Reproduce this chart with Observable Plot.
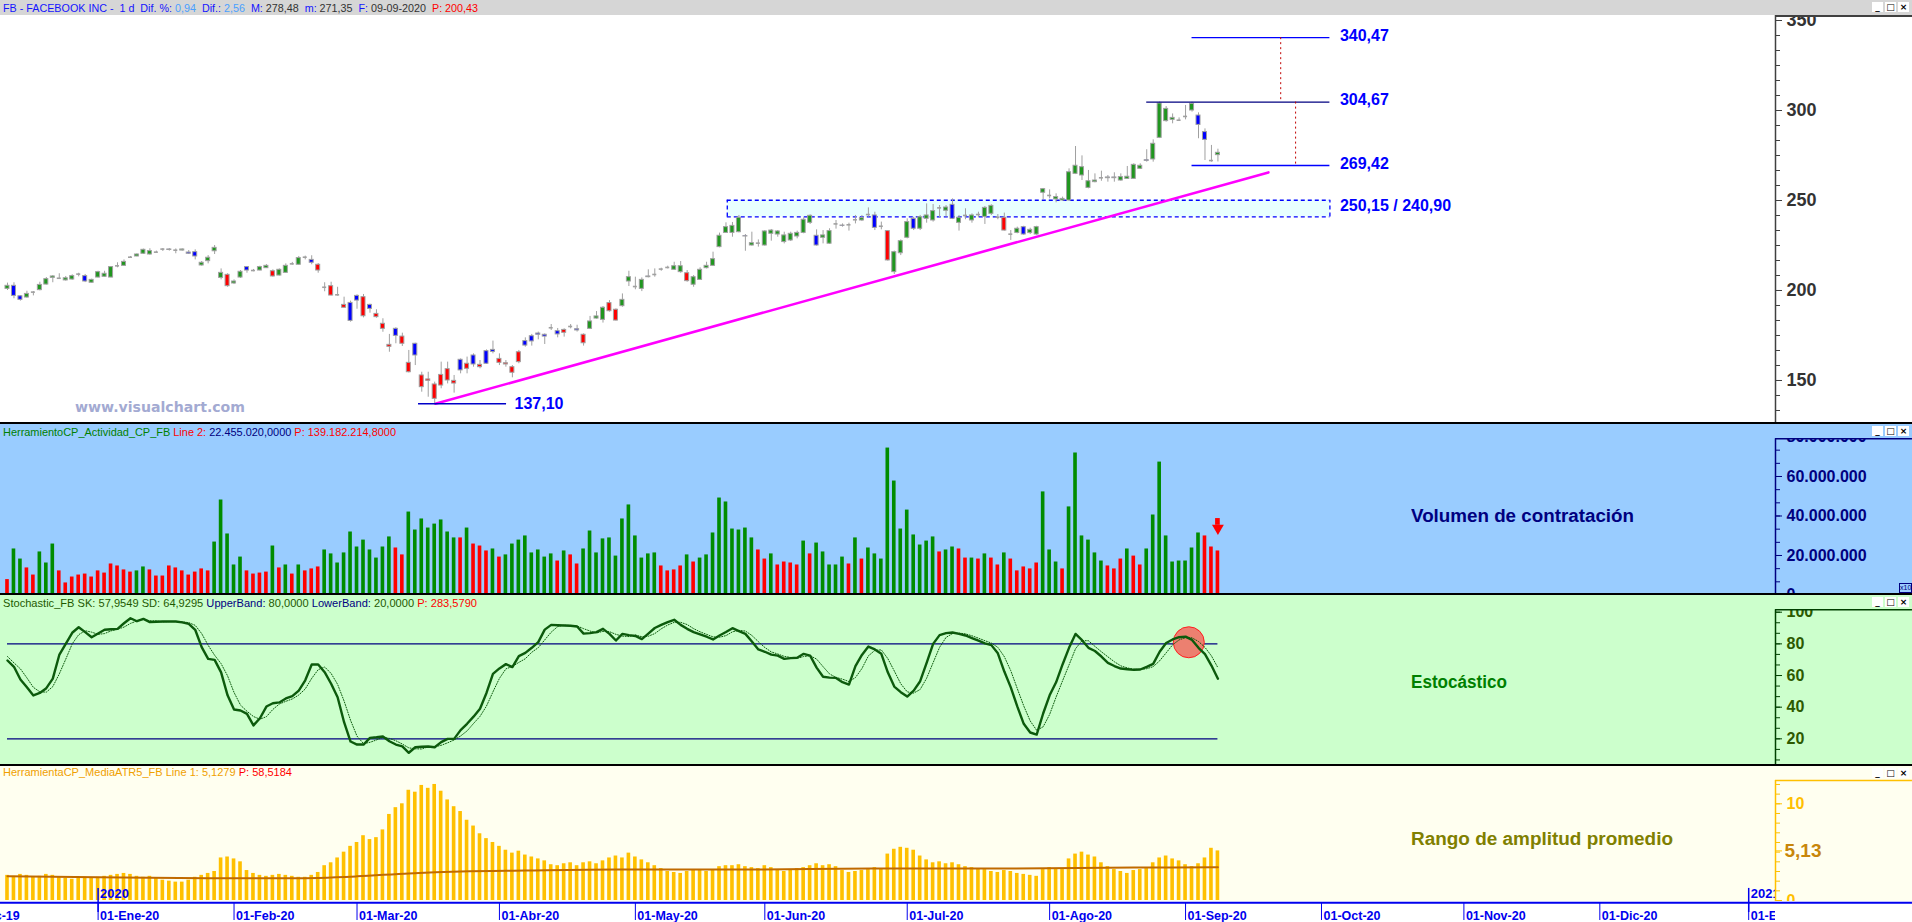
<!DOCTYPE html>
<html>
<head>
<meta charset="utf-8">
<script src="https://cdn.jsdelivr.net/npm/d3@7"></script>
<script src="https://cdn.jsdelivr.net/npm/@observablehq/plot@0.6"></script>
<style>
html,body{margin:0;padding:0;background:#fff;}
#root{position:relative;width:1912px;height:922px;overflow:hidden;font-family:"Liberation Sans",Arial,sans-serif;}
#root svg{position:absolute;left:0;}
.ov{position:absolute;white-space:pre;transform-origin:0 50%;}
.hdr{font-size:11px;line-height:12px;}
.big{font:bold 18px "Liberation Sans",Arial,sans-serif;line-height:22px;}
.btns{position:absolute;left:1872px;display:flex;gap:2px;}
.btns span{display:block;width:11px;height:10px;background:#fff;font:bold 9px/10px "DejaVu Sans",sans-serif;text-align:center;color:#000;}
</style>
</head>
<body>
<div id="root"></div>
<script>
// ---------------- DATA ----------------
const FIRST_DAY = -14; // trading-day index (0 = 02-Jan-2020)
const OPEN = [200.9,202.6,196.8,196.1,199.1,200.2,203.3,207.0,206.8,205.6,206.1,209.1,208.0,204.3,
207.2,207.6,207.2,213.7,213.7,218.5,218.9,220.4,220.0,221.3,223.0,222.8,222.4,222.2,221.1,221.3,213.9,216.3,221.8,
207.0,208.7,203.9,207.2,213.0,211.1,211.1,212.4,210.7,208.3,209.8,214.8,214.3,218.5,217.0,214.3,201.8,202.4,197.6,192.0,193.1,197.0,
196.3,192.0,187.0,181.5,169.8,178.7,174.4,159.8,170.4,152.8,150.6,147.8,153.1,156.3,149.8,161.5,159.3,163.9,158.7,166.3,
167.0,162.0,159.6,157.4,165.7,171.9,174.6,176.1,175.4,179.3,177.4,178.1,180.0,178.5,175.4,178.7,184.4,183.7,193.0,189.3,
191.3,205.0,202.2,200.9,207.8,208.9,211.9,212.8,211.5,210.2,209.6,203.2,205.9,212.4,213.7,224.1,232.0,232.0,232.4,230.2,
225.0,226.3,225.0,231.5,231.1,226.9,227.8,230.0,232.0,237.6,230.4,229.3,226.0,237.0,236.1,236.5,239.3,238.9,242.2,241.7,
235.7,233.0,210.2,220.7,229.3,239.8,234.3,239.8,238.9,245.9,244.3,247.6,237.6,241.7,238.9,242.2,240.9,242.6,240.7,240.4,
231.3,232.0,235.2,231.9,231.1,254.3,252.8,250.6,250.0,250.0,264.8,263.9,257.0,260.2,262.6,262.8,262.8,261.1,262.0,262.0,
267.6,272.4,272.8,284.8,294.1,294.8,294.6,296.7,300.0,297.2,288.0,272.2,275.2];
const HIGH = [204.1,204.3,197.2,199.6,199.4,204.6,207.2,208.3,209.3,207.8,208.7,209.6,208.9,206.3,
210.7,210.7,213.3,215.4,217.0,218.9,220.4,223.0,223.2,221.9,223.3,223.3,223.1,223.1,222.2,222.6,216.1,219.4,225.0,
212.0,209.3,205.9,211.1,213.3,211.7,213.5,214.4,211.5,212.0,214.8,215.6,218.9,219.1,219.3,215.0,204.3,204.6,201.8,196.3,194.1,197.6,
197.8,192.4,189.3,184.3,175.6,179.3,176.3,166.7,170.7,154.6,154.6,149.1,160.2,160.2,152.8,162.0,163.0,164.8,161.1,167.0,
171.9,164.8,161.1,158.3,166.7,173.7,175.6,176.9,175.9,181.1,178.9,178.7,181.1,180.7,175.9,185.6,188.3,191.1,194.4,189.8,
198.1,210.7,207.4,207.0,211.5,212.0,212.4,213.5,215.7,216.1,211.1,208.3,212.6,215.7,221.3,231.9,237.6,237.8,241.7,231.1,
232.4,228.1,233.3,233.9,233.3,232.4,232.4,233.0,240.4,242.0,233.7,233.3,234.3,238.9,237.0,237.4,241.7,241.7,245.9,243.5,
238.0,233.3,221.9,228.1,239.8,240.7,241.7,248.1,247.8,247.2,247.2,250.9,241.7,245.4,242.6,243.5,246.7,247.6,242.2,243.0,
233.3,235.2,235.7,234.6,235.7,256.7,255.9,253.7,251.9,267.6,280.0,274.8,266.7,264.8,266.3,263.9,265.4,264.8,268.9,270.4,
270.4,278.2,283.7,304.7,302.2,298.1,295.9,302.8,304.6,298.7,289.8,280.6,278.5];
const LOW = [200.0,195.4,194.1,195.7,197.0,199.8,203.0,204.3,206.1,205.2,205.7,207.6,204.4,204.1,
207.0,207.4,207.0,212.6,213.5,217.8,218.7,220.0,219.6,220.7,221.7,221.9,220.4,221.9,220.0,217.0,213.5,214.8,220.0,
205.9,201.8,203.3,206.7,209.6,210.4,210.9,212.2,207.4,208.0,209.6,214.1,214.1,217.0,214.3,209.6,199.3,197.0,196.9,190.2,182.4,189.6,
184.8,187.4,184.6,176.8,165.7,170.4,168.9,154.2,158.3,143.5,140.7,137.1,145.4,148.1,143.0,153.7,153.7,157.4,156.5,158.9,
164.8,158.3,157.4,151.5,159.3,168.5,169.1,172.6,170.0,177.8,173.7,174.1,178.7,176.9,169.1,178.3,184.1,181.9,188.0,183.0,
190.7,202.2,200.4,199.4,207.0,207.4,210.7,212.0,211.1,209.6,204.6,201.8,205.6,212.0,213.3,223.7,231.9,229.6,232.0,221.8,
224.6,224.1,224.6,227.4,229.6,225.9,227.2,228.7,231.5,236.7,224.6,225.9,225.6,234.1,235.2,233.0,237.0,238.3,240.7,233.3,
233.7,216.3,208.9,219.4,228.7,233.3,233.3,237.4,238.0,240.4,240.7,239.4,233.0,239.3,237.4,240.4,236.7,241.7,239.3,233.0,
227.8,231.5,230.6,231.1,230.6,250.4,250.9,248.7,249.6,249.6,264.4,261.1,256.5,259.8,260.7,260.2,260.2,260.7,261.7,261.7,
267.2,271.3,271.3,284.4,293.5,292.6,294.1,294.8,299.1,284.3,272.2,271.3,271.4];
const CLOSE = [202.6,197.0,194.8,198.1,199.1,203.1,206.3,207.8,206.8,206.8,208.0,209.1,205.0,205.9,
210.2,209.3,213.0,213.7,215.9,218.5,220.0,222.6,221.9,221.3,223.0,222.5,222.4,222.8,220.4,218.9,215.4,218.2,223.7,
209.8,202.4,205.0,210.4,211.1,211.1,213.0,213.7,207.8,211.5,213.7,214.8,218.0,218.5,215.4,211.1,201.8,197.2,197.6,190.4,183.1,194.4,
185.7,189.8,185.2,178.7,168.7,174.8,170.4,154.6,163.9,146.3,149.8,139.8,147.2,150.0,148.3,155.6,156.5,158.9,157.4,159.3,
165.9,159.8,158.9,154.3,160.2,169.4,171.7,175.4,174.4,179.3,175.6,176.5,180.0,177.8,170.7,182.8,185.6,190.4,188.5,183.3,
194.8,207.4,202.2,205.9,207.4,208.9,211.9,212.8,213.5,213.5,205.2,207.4,211.5,213.7,217.4,230.4,235.2,235.9,240.4,230.0,
226.3,226.3,232.8,233.3,232.8,230.6,231.5,232.0,239.3,241.5,225.0,230.6,233.0,237.0,235.9,236.5,239.3,240.2,242.2,234.8,
235.7,216.7,221.3,227.4,238.0,234.3,240.7,241.7,244.1,245.9,246.1,239.8,240.4,241.7,241.7,242.2,245.9,247.0,240.7,233.3,
231.3,234.3,231.1,233.7,235.2,256.3,252.8,251.9,250.9,265.7,269.3,268.5,260.7,261.1,262.6,262.4,262.4,263.0,263.2,269.8,
269.3,272.0,281.5,303.9,300.9,295.9,294.6,296.7,303.7,292.0,283.7,272.2,276.5];
// g = green body, r = red body, b = blue body, d = doji
const CANDLE_KIND = ("gbbgdgggdggdbg" + "gggdgdgggddbdgbbggg" + "grggbdggrggdgdbrdrdrbb" + "rbrrrbrrbrrrrrrbrbrb" +
  "brrrrbbbbdbrdbrgggrr" + "ggdgbdddggrggggggggb" + "gdggggggggbggdbddgdb" + "drgggbgggdgbgdgdggdr" +
  "dgbgggdgggggggdbbggg" + "gbggggddgbbdg").split("");

// volume (millions)
const VOLUME = [7.8,23.3,18.2,13.7,10.1,21.8,16.2,25.8,12.2,6.1,
9.1,10.1,10.6,9.1,12.2,11.1,15.7,14.7,12.7,11.6,
12.2,14.2,12.7,9.6,9.6,14.7,13.7,12.2,10.1,11.6,
13.2,12.2,26.8,48.1,30.9,15.2,19.2,12.2,10.6,11.1,
11.6,24.8,13.7,15.2,10.6,15.2,12.2,13.2,14.2,22.8,
20.8,16.2,21.3,31.9,24.3,27.8,22.8,18.7,24.3,29.4,
23.8,20.3,42.0,32.9,38.5,33.9,35.9,38.0,31.9,28.9,
28.9,33.9,25.8,24.8,22.3,23.3,19.2,20.3,25.8,27.8,
29.9,21.3,22.8,19.2,20.8,17.2,22.3,20.3,15.7,23.3,
32.4,21.3,28.4,28.9,19.7,
38.5,45.6,29.9,18.7,20.8,21.3,14.7,12.2,12.7,14.7,
20.3,16.7,18.7,20.3,31.4,49.1,47.1,33.4,32.9,33.9,
28.9,22.8,18.2,20.8,15.2,16.7,16.2,15.2,27.3,20.8,
26.3,21.8,15.2,15.2,19.2,15.7,28.9,18.2,23.8,20.8,
18.2,74.4,57.7,33.4,43.0,30.4,25.3,27.3,29.4,21.8,
22.8,24.3,23.3,18.7,18.7,18.2,20.8,18.7,15.2,21.3,
18.2,12.2,14.2,13.2,16.2,52.2,22.8,16.7,13.2,44.6,
71.9,29.9,27.8,21.3,17.2,14.7,13.2,18.2,23.3,19.7,
15.2,23.3,40.5,67.3,29.9,16.7,17.2,17.2,23.8,31.4,
29.9,24.3,22.3];
const VOLUME_KIND = ("rggrrgggrr" + "rrrrrrrrrr" + "ggrrrrrrrr" + "rrgggggrrr" + "rgrgrgrrrg" + "gggggggggg" +
  "rrgggggggg" + "rgrrrgrggg" + "gggggrgrrg" + "ggggg" + "ggggggrrrr" + "grgggggggg" + "grrgrrrrgr" +
  "gggggrgrgg" + "gggggggggr" + "ggrrgrgrrg" + "rrrrrgggrg" + "gggggrrrgr" + "rggggggggg" + "rrr").split("");
const VOLUME_ALERT = {day: 173, value: 38.7};

// stochastic %K (solid) and %D (dotted)
const SK = [69.5,65.5,57.5,52.6,47.4,49.0,52.0,58.0,73.0,80.0,87.0,90.5,87.4,84.2,
86.5,88.9,89.2,89.5,93.0,96.2,94.3,95.8,93.7,94.0,94.1,94.1,94.1,93.6,92.6,88.9,77.9,70.5,69.9,
62.0,47.5,38.5,37.9,35.8,28.5,33.0,40.4,42.5,43.0,45.5,47.0,50.5,57.0,67.0,67.0,62.1,54.8,46.3,30.5,18.3,16.4,
16.4,20.6,21.0,21.5,18.5,16.4,15.2,11.2,14.7,15.0,15.2,14.7,17.9,20.0,20.0,25.5,29.5,34.0,39.0,49.0,
61.0,64.5,67.2,65.3,72.3,74.3,77.5,81.1,89.0,92.0,91.8,91.6,91.4,91.0,86.5,86.8,87.4,89.5,86.3,82.1,
86.3,85.5,85.0,83.0,86.5,90.0,92.0,93.7,95.2,92.0,89.5,87.4,86.0,84.5,82.8,85.3,87.5,89.9,88.0,86.3,
81.5,76.5,75.0,73.2,72.6,70.5,71.0,71.2,73.7,72.6,65.0,59.2,58.7,58.5,55.8,54.3,66.0,73.0,78.3,76.5,
73.7,62.0,53.0,49.5,46.7,50.5,56.4,68.0,80.0,85.5,86.8,87.2,86.3,85.3,83.6,82.0,80.3,79.2,74.0,62.5,
52.5,40.5,29.5,24.0,22.7,36.0,47.5,55.7,67.0,77.5,86.3,82.3,77.5,75.5,72.0,68.0,66.0,64.4,64.0,63.6,
63.8,65.5,67.4,75.0,80.5,82.8,84.2,84.6,82.5,77.5,73.5,66.3,58.0];
const SD = [72,68,64.2,58.5,52.5,49.7,49.5,53,61,70.3,80,85.8,88.3,87.4,
86,86.5,88.2,89.2,90.6,92.9,94.5,95.4,94.6,94.5,93.9,94.1,94.1,93.9,93.4,91.7,86.5,79.1,72.8,
67.5,59.8,49.3,41.3,37.4,34.1,32.4,34,38.6,42,43.7,45.2,47.7,51.5,58.2,63.7,65.4,61.3,54.4,43.9,31.7,21.7,
17,17.8,19.3,21,20.3,18.8,16.7,14.3,13.7,13.6,15,15,15.9,17.5,19.3,21.8,25,29.7,34.2,40.7,
49.7,58.2,64.2,65.7,68.3,70.6,74.7,77.6,82.5,87.4,90.9,91.8,91.6,91.3,89.6,88.1,86.9,87.9,87.7,86,
84.9,84.6,85.6,84.5,84.8,86.5,89.5,91.9,93.6,93.6,92.2,89.6,87.6,86,84.4,84.2,85.2,87.6,88.5,88.1,
85.3,81.4,77.7,74.9,73.6,72.1,71.4,70.9,72,72.5,70.4,65.6,61,58.8,57.7,56.2,58.7,64.4,72.4,75.9,
76.2,70.7,62.9,54.8,49.7,48.9,51.2,58.3,68.1,77.8,84.1,86.5,86.8,86.3,85.1,83.6,82,80.5,77.8,71.9,
63,51.8,40.8,31.3,25.4,27.6,35.4,46.4,56.7,66.7,76.9,82,82,78.4,75,71.8,68.7,66.1,64.8,64,
63.8,64.3,65.6,69.3,74.3,79.4,82.5,83.9,83.8,81.5,77.8,72.4,64.9];
const STOCH_BANDS = [80, 20];
const STOCH_HIGHLIGHT = {day: 168.5, value: 81};

// average true range (5) and its average line
const ATR = [2.6,2.5,2.7,2.6,2.4,2.5,2.7,2.6,2.4,2.3,2.2,2.3,2.4,2.3,
2.4,2.5,2.6,2.7,2.8,2.7,2.5,2.4,2.5,2.3,2.1,2.0,1.9,1.9,2.1,2.4,2.6,2.8,3.0,
4.4,4.5,4.3,4.0,
3.1,2.8,2.6,2.5,2.6,2.7,2.6,2.5,2.4,2.4,2.6,2.9,3.6,3.9,4.4,
5.0,5.6,6.0,6.7,6.3,6.5,7.3,
8.9,9.6,10.0,11.4,
11.2,11.9,11.6,12.0,11.3,
10.4,9.7,9.2,8.3,7.7,6.9,
6.4,6.0,5.6,5.2,4.9,
5.1,4.7,4.5,4.3,4.1,
3.7,3.6,3.8,3.9,3.6,3.9,4.0,3.8,4.1,4.4,4.6,4.4,4.9,
4.5,4.2,3.9,3.6,3.3,3.0,2.9,2.8,3.0,3.2,3.1,3.0,3.2,3.5,3.6,
3.6,3.7,3.5,3.4,3.3,3.6,3.4,3.1,3.0,3.2,3.3,3.4,3.6,3.8,3.6,3.7,3.5,3.1,2.9,3.0,
3.1,3.2,3.4,3.3,
4.8,5.3,5.5,5.4,5.2,
4.6,4.2,3.9,4.0,3.8,3.9,3.7,3.5,3.4,3.3,
3.2,3.0,2.9,3.1,3.0,2.8,2.7,2.6,2.5,
3.2,3.4,3.3,3.2,
4.3,4.8,5.0,4.7,4.5,
3.9,3.5,3.2,3.0,2.8,3.1,3.2,3.3,
3.9,4.4,4.6,4.3,4.1,
3.7,3.5,3.8,4.4,
5.4,5.13];
const ATR_AVG_DAYS = [-14, 0, 18, 30, 40, 48, 56, 66, 80, 100, 120, 140, 160, 173];
const ATR_AVG = [2.5, 2.4, 2.3, 2.3, 2.5, 2.8, 3.0, 3.1, 3.2, 3.2, 3.3, 3.3, 3.4, 3.45];
const ATR_LAST = 5.13;

// price annotations
const LEVELS = [
  {value: 340.47, label: "340,47", from: 169},
  {value: 304.67, label: "304,67", from: 162},
  {value: 269.42, label: "269,42", from: 169}
];
const LEVEL_END = 190.3;
const ZONE = {low: 240.90, high: 250.15, label: "250,15 / 240,90", from: 97.2};
const LOW_MARK = {value: 137.10, label: "137,10", from: 49.5, to: 63.1};
const TREND = [{day: 52.1, price: 137.1}, {day: 180.8, price: 265.6}];
const TARGETS = [{day: 182.7, from: 340.47, to: 304.67}, {day: 185.0, from: 304.67, to: 269.42}];

// axes
const MONTH_DAYS = [-21, 0, 21, 40, 62, 83, 103, 125, 147, 168, 189, 211, 232, 255];
const MONTH_LABELS = ["01-Dic-19","01-Ene-20","01-Feb-20","01-Mar-20","01-Abr-20","01-May-20","01-Jun-20",
  "01-Jul-20","01-Ago-20","01-Sep-20","01-Oct-20","01-Nov-20","01-Dic-20","01-Ene-21"];
const YEAR_DAYS = [0, 255];
const YEAR_LABELS = ["2020", "2021"];
const PRICE_TICKS = [150, 200, 250, 300, 350];
const VOLUME_TICKS = [0, 20, 40, 60, 80];
const STOCH_TICKS = [0, 20, 40, 60, 80, 100];
const ATR_TICKS = [0, 10];

// texts
const TITLE = [["FB - FACEBOOK INC -  1 d  Dif. %: ", "#1414ff"], ["0,94", "#4aa0ff"], ["  Dif.: ", "#1414ff"], ["2,56", "#4aa0ff"],
  ["  M: ", "#1414ff"], ["278,48", "#333"], ["  m: ", "#1414ff"], ["271,35", "#333"], ["  F: ", "#1414ff"], ["09-09-2020", "#333"], ["  P: 200,43", "#ff0000"]];
const VOL_HEADER = [["HerramientoCP_Actividad_CP_FB ", "#008000"], ["Line 2: ", "#ff0000"], ["22.455.020,0000 ", "#000080"], ["P: 139.182.214,8000", "#ff0000"]];
const STOCH_HEADER = [["Stochastic_FB SK: 57,9549 SD: 64,9295 ", "#1e5a00"], ["UpperBand: ", "#000080"], ["80,0000 ", "#1e5a00"],
  ["LowerBand: ", "#000080"], ["20,0000 ", "#1e5a00"], ["P: 283,5790", "#ff0000"]];
const ATR_HEADER = [["HerramientaCP_MediaATR5_FB Line 1: 5,1279 ", "#f0a000"], ["P: 58,5184", "#ff0000"]];
const PANEL_NAMES = ["Volumen de contratación", "Estocástico", "Rango de amplitud promedio"];
const WATERMARK = "www.visualchart.com";

// ---------------- BUILD ----------------
const root = document.getElementById("root");
const W = 1912, X_MIN = -15.08, X_MAX = 259.14, X_FAR = 280.3;
const BODY = 0.31, BAR = 0.28;
const day0 = (k) => FIRST_DAY + k;

const candles = OPEN.map((open, k) => ({day: day0(k), open, high: HIGH[k], low: LOW[k], close: CLOSE[k], kind: CANDLE_KIND[k]}));
const volume = VOLUME.map((v, k) => ({day: day0(k), v, kind: VOLUME_KIND[k]}));
const sk = SK.map((v, k) => ({day: day0(k), v}));
const sd = SD.map((v, k) => ({day: day0(k), v}));
const atr = ATR.map((v, k) => ({day: day0(k), v}));
const atrAvg = ATR_AVG_DAYS.map((day, k) => ({day, v: ATR_AVG[k]}));
const LAST_DAY = day0(OPEN.length - 1);

const frame = {width: W, marginLeft: 0, marginRight: 137, marginTop: 0, marginBottom: 0, x: {domain: [X_MIN, X_MAX], axis: null}};
const st = (bg) => ({background: bg, overflow: "hidden", maxWidth: "none", fontFamily: "'Liberation Sans', Arial, sans-serif", fontSize: "12px"});
const bold = {fontWeight: "bold", fontFamily: "'Liberation Sans', Arial, sans-serif"};
function mount(svg, top) { svg.style.top = top + "px"; root.appendChild(svg); }

// price panel
const GRAY = "#a0a0a0";
const BODY_FILL = {g: "#20961f", r: "#ff0000", b: "#0000ff"};
const bodyMarks = ["g", "r", "b"].map(k => Plot.rect(candles.filter(d => d.kind === k), {
  x1: d => d.day - BODY, x2: d => d.day + BODY, y1: "open", y2: "close", fill: BODY_FILL[k], stroke: GRAY, strokeWidth: 1}));
const levelColors = ["#0000ff", "#000080", "#0000ff"];
const pricePlot = Plot.plot({
  ...frame, height: 408, y: {domain: [126.11, 352.78], axis: null}, style: st("#ffffff"),
  marks: [
    Plot.rect([ZONE], {x1: "from", x2: () => LEVEL_END, y1: "low", y2: "high", fill: "#e8ffff"}),
    Plot.ruleY([ZONE.low, ZONE.high], {x1: ZONE.from, x2: LEVEL_END, stroke: "#0000ff", strokeWidth: 1.3, strokeDasharray: "4,3"}),
    Plot.ruleX([ZONE.from, LEVEL_END], {y1: ZONE.low, y2: ZONE.high, stroke: "#0000ff", strokeWidth: 1.3, strokeDasharray: "4,3"}),
    Plot.line(TREND, {x: "day", y: "price", stroke: "#ff00ff", strokeWidth: 2.6}),
    Plot.ruleX(candles, {x: "day", y1: "low", y2: "high", stroke: GRAY, strokeWidth: 1}),
    ...bodyMarks,
    Plot.ruleY(candles.filter(d => d.kind === "d"), {y: "close", x1: d => d.day - BODY, x2: d => d.day + BODY, stroke: GRAY, strokeWidth: 1.6}),
    ...LEVELS.map((lv, i) => Plot.ruleY([lv], {y: "value", x1: "from", x2: () => LEVEL_END, stroke: levelColors[i], strokeWidth: 1.4})),
    Plot.text(LEVELS, {x: () => LEVEL_END, y: "value", text: "label", dx: 10, dy: -2, textAnchor: "start", fill: "#0000ff", fontSize: 16, ...bold}),
    Plot.text([ZONE], {x: () => LEVEL_END, y: d => (d.low + d.high) / 2, text: "label", dx: 10, dy: -3, textAnchor: "start", fill: "#0000ff", fontSize: 16, ...bold}),
    Plot.ruleX(TARGETS, {x: "day", y1: "from", y2: "to", stroke: "#c00000", strokeWidth: 1, strokeDasharray: "2,3"}),
    Plot.ruleY([LOW_MARK], {y: "value", x1: "from", x2: "to", stroke: "#0000c8", strokeWidth: 1.5}),
    Plot.text([LOW_MARK], {x: "to", y: "value", text: "label", dx: 8, textAnchor: "start", fill: "#0000ff", fontSize: 16, ...bold}),
    Plot.ruleX([X_MAX], {stroke: "#404040", strokeWidth: 1.5}),
    Plot.axisY(d3.range(125, 353, 50 / 6), {anchor: "right", tickSize: 4, tickFormat: () => "", stroke: "#404040", label: null}),
    Plot.axisY(PRICE_TICKS, {anchor: "right", tickSize: 6, tickPadding: 5, tickFormat: d => String(d), fill: "#333333", stroke: "#404040", fontSize: 18, ...bold, label: null})
  ]
});
mount(pricePlot, 15);

// volume panel
const NAVY = "#000080", VOL_BOX = 79.1, VOL_BG = "#99ccff";
const volFmt = d => d === 0 ? "0" : d3.format(",")(d * 1e6).replace(/,/g, ".");
const volumePlot = Plot.plot({
  ...frame, height: 170, y: {domain: [0.25, 86.33], axis: null}, style: st(VOL_BG),
  marks: [
    Plot.rect(volume.filter(d => d.kind === "g"), {x1: d => d.day - BAR, x2: d => d.day + BAR, y1: 0, y2: "v", fill: "#008c00"}),
    Plot.rect(volume.filter(d => d.kind === "r"), {x1: d => d.day - BAR, x2: d => d.day + BAR, y1: 0, y2: "v", fill: "#ff0000"}),
    Plot.rect([VOLUME_ALERT], {x1: d => d.day - 0.36, x2: d => d.day + 0.36, y1: "value", y2: d => d.value - 3.4, fill: "#ff0000"}),
    Plot.dot([VOLUME_ALERT], {x: "day", y: d => d.value - 3.4, dy: 3, symbol: "triangle", r: 4.4, rotate: 180, fill: "#ff0000"}),
    Plot.axisY(d3.range(0, 87, 20 / 3), {anchor: "right", tickSize: 4, tickFormat: () => "", stroke: NAVY, label: null}),
    Plot.axisY(VOLUME_TICKS, {anchor: "right", tickSize: 6, tickPadding: 5, tickFormat: volFmt, fill: NAVY, stroke: NAVY, fontSize: 16, ...bold, label: null}),
    Plot.rect([0], {x1: X_MAX, x2: X_FAR, y1: VOL_BOX, y2: 90, fill: VOL_BG}),
    Plot.ruleX([X_MAX], {y1: 0.25, y2: VOL_BOX, stroke: NAVY, strokeWidth: 1.5}),
    Plot.ruleY([VOL_BOX], {x1: X_MAX, x2: X_FAR, stroke: NAVY, strokeWidth: 1.5})
  ]
});
mount(volumePlot, 424);

// stochastic panel
const DKGREEN = "#0c5a0c", ST_AXIS = "#004000", ST_BOX = 101.5, ST_BG = "#ccffcc";
const stochPlot = Plot.plot({
  ...frame, height: 170, y: {domain: [3.16, 110.55], axis: null}, style: st(ST_BG),
  marks: [
    Plot.ruleY(STOCH_BANDS, {x1: FIRST_DAY, x2: LAST_DAY, stroke: NAVY, strokeWidth: 1.4}),
    Plot.dot([STOCH_HIGHLIGHT], {x: "day", y: "value", r: 15.5, fill: "#ec8070", stroke: "#ff2020", strokeWidth: 1}),
    Plot.line(sd, {x: "day", y: "v", stroke: DKGREEN, strokeWidth: 1, strokeDasharray: "1,1.6"}),
    Plot.line(sk, {x: "day", y: "v", stroke: DKGREEN, strokeWidth: 2.4}),
    Plot.axisY(d3.range(0, 111, 20 / 3), {anchor: "right", tickSize: 4, tickFormat: () => "", stroke: ST_AXIS, label: null}),
    Plot.axisY(STOCH_TICKS, {anchor: "right", tickSize: 6, tickPadding: 5, tickFormat: d => String(d), fill: "#2d5a00", stroke: ST_AXIS, fontSize: 16, ...bold, label: null}),
    Plot.rect([0], {x1: X_MAX, x2: X_FAR, y1: ST_BOX, y2: 115, fill: ST_BG}),
    Plot.ruleX([X_MAX], {y1: 3.16, y2: ST_BOX, stroke: ST_AXIS, strokeWidth: 1.5}),
    Plot.ruleY([ST_BOX], {x1: X_MAX, x2: X_FAR, stroke: ST_AXIS, strokeWidth: 1.5})
  ]
});
mount(stochPlot, 595);

// ATR panel
const GOLD = "#ffc000", ATR_BOX = 12.41, ATR_BG = "#fffff0", BLUE = "#0000ee";
const atrPlot = Plot.plot({
  ...frame, height: 135, y: {domain: [-0.103, 13.857], axis: null}, style: st(ATR_BG),
  marks: [
    Plot.rect(atr, {x1: d => d.day - BAR, x2: d => d.day + BAR, y1: 0, y2: "v", fill: GOLD}),
    Plot.line(atrAvg, {x: "day", y: "v", stroke: "#c06a00", strokeWidth: 2, curve: "monotone-x"}),
    Plot.ruleX(YEAR_DAYS, {y1: -0.103, y2: 1.25, stroke: BLUE, strokeWidth: 1.5}),
    Plot.text(YEAR_DAYS, {x: d => d, y: 0.72, text: (d, i) => YEAR_LABELS[i], dx: 2, textAnchor: "start", fill: BLUE, fontSize: 13, ...bold, clip: true}),
    Plot.axisY(d3.range(0, 13, 1), {anchor: "right", tickSize: 4, tickFormat: () => "", stroke: GOLD, label: null}),
    Plot.axisY(ATR_TICKS, {anchor: "right", tickSize: 6, tickPadding: 5, tickFormat: d => String(d), fill: GOLD, stroke: GOLD, fontSize: 16, ...bold, label: null}),
    Plot.axisY([ATR_LAST], {anchor: "right", tickSize: 6, tickPadding: 3, tickFormat: d => d.toFixed(2).replace(".", ","), fill: "#c8860a", stroke: GOLD, fontSize: 19, ...bold, label: null}),
    Plot.ruleX([X_MAX], {y1: -0.103, y2: ATR_BOX, stroke: GOLD, strokeWidth: 1.5}),
    Plot.ruleY([ATR_BOX], {x1: X_MAX, x2: X_FAR, stroke: GOLD, strokeWidth: 1.5})
  ]
});
mount(atrPlot, 766);

// time axis strip
const stripPlot = Plot.plot({
  ...frame, height: 21, y: {domain: [0, 21], range: [0, 21], axis: null}, style: st("#ffffff"),
  marks: [
    Plot.ruleY([1.2], {x1: X_MIN, x2: X_FAR, stroke: BLUE, strokeWidth: 2}),
    Plot.ruleX(MONTH_DAYS, {y1: 1, y2: 19, stroke: BLUE, strokeWidth: 1}),
    Plot.ruleX(YEAR_DAYS, {y1: 0, y2: 11, stroke: BLUE, strokeWidth: 1.5}),
    Plot.text(MONTH_DAYS, {x: d => d, y: 14.5, text: (d, i) => MONTH_LABELS[i], dx: 2, textAnchor: "start", fill: BLUE, fontSize: 12.5, ...bold, clip: true})
  ]
});
mount(stripPlot, 901);

// ---------------- OVERLAYS (chrome & text) ----------------
function addDiv(cls, css, html) {
  const d = document.createElement("div");
  d.className = cls; d.style.cssText = css; d.innerHTML = html;
  root.appendChild(d); return d;
}
const spans = parts => parts.map(([t, c]) => `<span style="color:${c}">${t}</span>`).join("");
function fit(el, target) { const w = el.getBoundingClientRect().width; if (w > 0) el.style.transform = `scaleX(${(target / w).toFixed(4)})`; }

addDiv("ov", "left:0;top:0;width:1912px;height:15px;background:#d6d6d6;", "");
addDiv("ov", "left:1775px;top:15px;width:137px;height:1.5px;background:#404040;", "");
[[422, 2], [593, 2], [764, 2]].forEach(([t, h]) => addDiv("ov", `left:0;top:${t}px;width:1912px;height:${h}px;background:#000;`, ""));

fit(addDiv("ov hdr", "left:3px;top:2px;", spans(TITLE)), 475);
fit(addDiv("ov hdr", "left:3px;top:426px;", spans(VOL_HEADER)), 393);
fit(addDiv("ov hdr", "left:3px;top:597px;", spans(STOCH_HEADER)), 474);
fit(addDiv("ov hdr", "left:3px;top:766px;", spans(ATR_HEADER)), 289);

[2, 426, 597, 768].forEach(t => addDiv("btns", `top:${t}px`, "<span>_</span><span>□</span><span>×</span>"));
addDiv("ov", "left:1899px;top:583px;width:11px;height:8px;border:1px solid #000080;font:7px/8px 'Liberation Sans',Arial;color:#000080;text-align:center;", "x10");

fit(addDiv("ov big", "left:1411px;top:505px;color:#000080;", PANEL_NAMES[0]), 223);
fit(addDiv("ov big", "left:1411px;top:671px;color:#008000;", PANEL_NAMES[1]), 96);
fit(addDiv("ov big", "left:1411px;top:828px;color:#808000;", PANEL_NAMES[2]), 262);
fit(addDiv("ov", "left:75px;top:398px;font:bold 14px 'DejaVu Sans',sans-serif;color:#a3aad2;line-height:18px;", WATERMARK), 170);
</script>
</body>
</html>
